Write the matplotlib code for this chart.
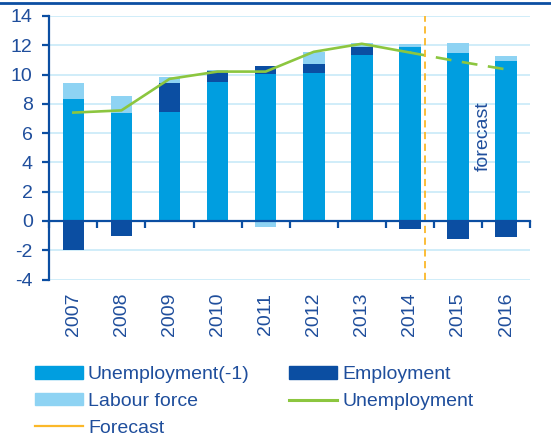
import matplotlib
matplotlib.use("Agg")
import matplotlib.pyplot as plt
import matplotlib.transforms as mtransforms
from matplotlib.lines import Line2D
from matplotlib.patches import Patch
import numpy as np

plt.rcParams['font.family'] = ['Liberation Sans', 'DejaVu Sans']
plt.rcParams['axes.unicode_minus'] = False

# data
years = ['2007', '2008', '2009', '2010', '2011', '2012', '2013', '2014', '2015', '2016']
unemp_lag = [8.3, 7.35, 7.45, 9.5, 10.05, 10.1, 11.3, 11.9, 11.5, 10.9]
employment = [-2.0, -1.0, 2.0, 0.75, 0.55, 0.65, 0.55, -0.55, -1.2, -1.1]
labour_force = [1.1, 1.2, 0.35, 0.05, -0.4, 0.8, 0.3, 0.2, 0.65, 0.35]
unemployment = [7.4, 7.55, 9.7, 10.2, 10.2, 11.55, 12.1, 11.5, 10.9, 10.35]
forecast_start = 7  # index of last actual year (2014)

c_main = '#009ee0'
c_dark = '#0b4ea2'
c_light = '#8ed3f3'
c_green = '#8cc63f'
c_orange = '#fbb829'
c_text = '#1f4e9c'
c_grid = '#c8eaf8'

fig = plt.figure(figsize=(5.51, 4.43), dpi=100)
ax = fig.add_axes([0.0895, 0.369, 0.8725, 0.595])

x = np.arange(len(years))
w = 0.45
pos_base = np.zeros(len(years))
neg_base = np.zeros(len(years))
for vals, col in ((unemp_lag, c_main), (employment, c_dark), (labour_force, c_light)):
    vals = np.array(vals)
    bottom = np.where(vals >= 0, pos_base, neg_base)
    ax.bar(x, vals, w, bottom=bottom, color=col, zorder=3)
    pos_base = pos_base + np.clip(vals, 0, None)
    neg_base = neg_base + np.clip(vals, None, 0)

# unemployment line, dashed in forecast years
ax.plot(x[:forecast_start + 1], unemployment[:forecast_start + 1], color=c_green, lw=1.9, zorder=4)
ax.plot(x[forecast_start:], unemployment[forecast_start:], color=c_green, lw=1.9, zorder=4,
        dashes=(6, 4))

# forecast marker
ax.axvline(forecast_start + 0.32, color=c_orange, lw=1.3, dashes=(4, 2.5), zorder=5)
ax.text(8.53, 5.8, 'forecast', rotation=90, ha='center', va='center', color=c_text, fontsize=14)

ax.set_xlim(-0.5, 9.5)
ax.set_ylim(-4, 14)
ax.set_yticks(np.arange(-4, 15, 2))
ax.yaxis.grid(True, color=c_grid, lw=1.2, zorder=0)
ax.set_axisbelow(True)

for s in ('top', 'right'):
    ax.spines[s].set_visible(False)
ax.spines['bottom'].set_position(('data', 0))
ax.spines['bottom'].set_zorder(6)
for s in ('left', 'bottom'):
    ax.spines[s].set_color(c_dark)
    ax.spines[s].set_linewidth(1.6)

ax.set_xticks(np.arange(-0.5, 10, 1))
ax.tick_params(axis='x', length=5, width=1.6, color=c_dark, labelbottom=False)
ax.tick_params(axis='y', length=5, width=1.6, color=c_dark, labelcolor=c_text,
               labelsize=14, pad=7)

trans = mtransforms.blended_transform_factory(ax.transData, ax.transAxes)
for i, yr in enumerate(years):
    ax.text(i, -0.05, yr, transform=trans, rotation=90, ha='center', va='top',
            color=c_text, fontsize=14)

handles = [
    Patch(color=c_main, label='Unemployment(-1)'),
    Patch(color=c_light, label='Labour force'),
    Line2D([], [], color=c_orange, lw=1.6, label='Forecast'),
    Patch(color=c_dark, label='Employment'),
    Line2D([], [], color=c_green, lw=2.2, label='Unemployment'),
]
leg = fig.legend(handles=handles, loc='upper left', bbox_to_anchor=(0.045, 0.195), ncol=2,
                 frameon=False, fontsize=14, handlelength=2.5, handleheight=0.6,
                 handletextpad=0.25, columnspacing=2.0, labelspacing=0.5, borderpad=0)
for t in leg.get_texts():
    t.set_color(c_text)

fig.add_artist(Line2D([0, 1], [0.993, 0.993], transform=fig.transFigure, color=c_dark, lw=2))

fig.savefig('out.png', dpi=100)
